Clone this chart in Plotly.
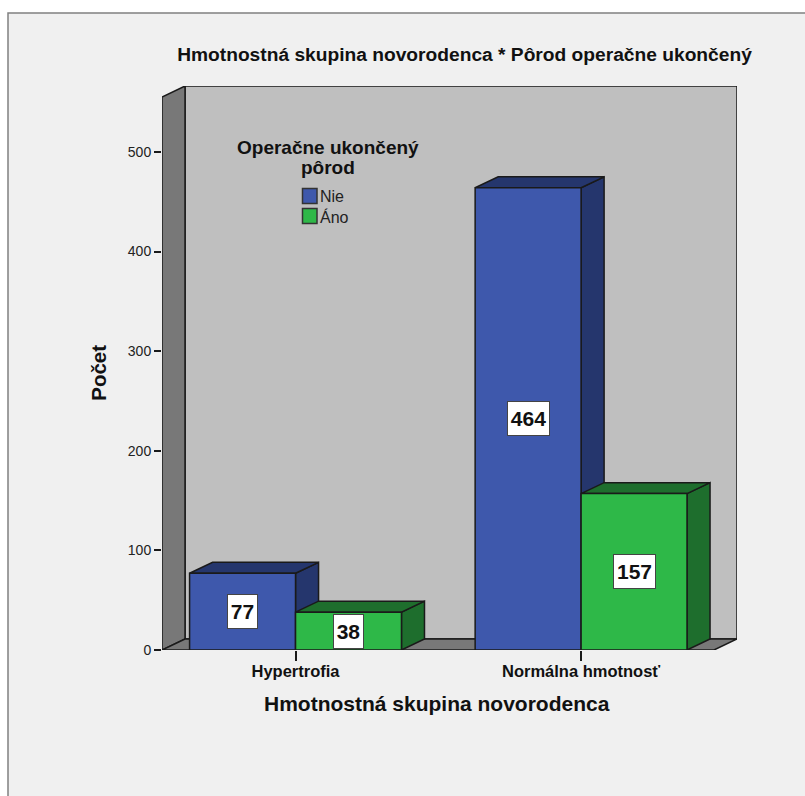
import plotly.graph_objects as go

categories = ["Hypertrofia", "Normálna hmotnosť"]
series_names = ["Nie", "Áno"]
nie_values = [77, 464]
ano_values = [38, 157]
y_ticks = [0, 100, 200, 300, 400, 500]

FONT = "Liberation Sans"
INK = "#1a1a1a"
TEXT = "#111111"
FRONT = {"Nie": "#3e58ac", "Áno": "#2eb848"}
SHADE = {"Nie": "#25366d", "Áno": "#1e6e2d"}
WALL = "#bfbfbf"
SIDE_WALL = "#787878"
PANEL = "#f0f0f0"

# Plot rectangle inside the page, in pixels
PLOT_L, PLOT_R, PLOT_T, PLOT_B = 162, 737, 86, 650.5
PAGE_W, PAGE_H = 805, 796

# Axis extents and the oblique offset of the pseudo-3D box, in data units
x_min, x_max = -0.4676, 1.546
y_max = 566.2
depth_x, depth_y = 0.0806, 11.0
bar_width = 0.371
x_pos = list(range(len(categories)))


def px(x):
    return (x - PLOT_L) / (PLOT_R - PLOT_L)


def py(y):
    return (PLOT_B - y) / (PLOT_B - PLOT_T)


def path(points):
    return "M" + "L".join(f"{x},{y}" for x, y in points) + "Z"


def face(points, color):
    return dict(type="path", path=path(points), xref="x", yref="y", layer="below",
                fillcolor=color, line=dict(color=INK, width=1.5))


def page_text(x, y, text, size, weight_bold=True, angle=0, anchor="center", color=TEXT):
    return dict(x=px(x), y=py(y), xref="paper", yref="paper", showarrow=False,
                xanchor=anchor, yanchor="middle", textangle=angle,
                text=f"<b>{text}</b>" if weight_bold else text,
                font=dict(family=FONT, size=size, color=color))


shapes = [
    # Light panel behind the whole chart
    dict(type="rect", xref="paper", yref="paper", layer="below",
         x0=px(8), x1=px(830), y0=py(830), y1=py(13),
         fillcolor=PANEL, line=dict(color="#808080", width=1.5)),
    face([(x_min + depth_x, depth_y), (x_max, depth_y), (x_max, y_max), (x_min + depth_x, y_max)], WALL),
    face([(x_min, 0), (x_min + depth_x, depth_y), (x_min + depth_x, y_max), (x_min, y_max - depth_y)], SIDE_WALL),
    face([(x_min, 0), (x_min + depth_x, depth_y), (x_max, depth_y), (x_max - depth_x, 0)], SIDE_WALL),
]

annotations = []
# Each group is painted left to right so a later bar hides the side of the previous one
for i, pos in enumerate(x_pos):
    for name, vals, left in (("Nie", nie_values, pos - bar_width), ("Áno", ano_values, pos)):
        v = vals[i]
        right = left + bar_width
        shapes.append(face([(right, 0), (right + depth_x, depth_y), (right + depth_x, v + depth_y), (right, v)], SHADE[name]))
        shapes.append(face([(left, v), (right, v), (right + depth_x, v + depth_y), (left + depth_x, v + depth_y)], SHADE[name]))
        annotations.append(dict(
            x=left + bar_width / 2, y=v / 2, xref="x", yref="y", text=f"<b>{v}</b>",
            showarrow=False, bgcolor="white", bordercolor="#444444", borderwidth=1,
            width=27 if v < 100 else 39, height=31,
            font=dict(family=FONT, size=21, color=TEXT),
        ))

# Legend block: heading in two lines, then a swatch and name per series
annotations += [
    page_text(328, 148, "Operačne ukončený", 19),
    page_text(328, 168, "pôrod", 19),
]
for name, y in zip(series_names, (196, 216)):
    shapes.append(dict(type="rect", xref="paper", yref="paper", layer="above",
                       x0=px(302.5), x1=px(317), y0=py(y + 7.5), y1=py(y - 7.5),
                       fillcolor=FRONT[name], line=dict(color="#333333", width=1.5)))
    annotations.append(page_text(318, y + 1, name, 16, weight_bold=False, anchor="left", color="#222222"))

annotations += [
    page_text(437, 704, "Hmotnostná skupina novorodenca", 21),
    page_text(99, 373, "Počet", 20.5, angle=-90),
]

fig = go.Figure()
for name, vals in (("Nie", nie_values), ("Áno", ano_values)):
    fig.add_bar(x=x_pos, y=vals, name=name, hoverinfo="x+y", showlegend=False,
                marker=dict(color=FRONT[name], line=dict(color=INK, width=1.5)))

fig.update_layout(
    width=PAGE_W, height=PAGE_H,
    margin=dict(l=PLOT_L, r=PAGE_W - PLOT_R, t=PLOT_T, b=PAGE_H - PLOT_B, autoexpand=False),
    paper_bgcolor="white", plot_bgcolor="rgba(0,0,0,0)",
    barmode="group", bargap=1 - 2 * bar_width, bargroupgap=0,
    title=dict(text="<b>Hmotnostná skupina novorodenca * Pôrod operačne ukončený</b>",
               x=464.5 / PAGE_W, xanchor="center", xref="container",
               y=1 - 54 / PAGE_H, yanchor="middle", yref="container",
               font=dict(family=FONT, size=19.2, color=TEXT)),
    xaxis=dict(range=[x_min, x_max], tickvals=x_pos, ticktext=categories,
               showgrid=False, zeroline=False, showline=False,
               ticks="outside", ticklen=10, tickwidth=1.5, tickcolor=INK,
               ticklabelstandoff=-4,
               tickfont=dict(family=FONT, size=16.5, color=TEXT, weight=700)),
    yaxis=dict(range=[0, y_max], tickvals=y_ticks,
               showgrid=False, zeroline=False, showline=False,
               ticks="outside", ticklen=7, tickwidth=1.5, tickcolor=INK,
               tickfont=dict(family=FONT, size=14, color="#222222")),
    shapes=shapes,
    annotations=annotations,
)

fig.write_html("out.html", config=dict(displayModeBar=False))
